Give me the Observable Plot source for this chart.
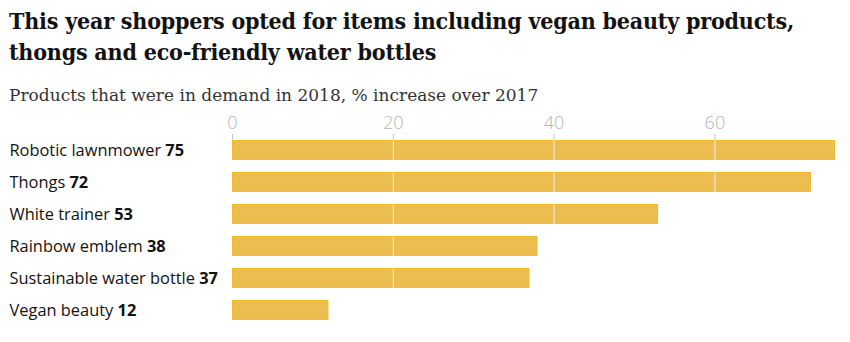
<!DOCTYPE html>
<html>
<head>
<meta charset="utf-8">
<script src="https://cdn.jsdelivr.net/npm/d3@7"></script>
<script src="https://cdn.jsdelivr.net/npm/@observablehq/plot@0.6"></script>
<style>
  html, body { margin: 0; padding: 0; background: #fff; width: 850px; height: 342px; overflow: hidden; }
  #title { position: absolute; left: 9px; top: 5px; font-family: "DejaVu Serif"; font-stretch: condensed; font-weight: 700; font-size: 23px; line-height: 31px; color: #121212; white-space: nowrap; letter-spacing: -0.2px; }
  #subtitle { position: absolute; left: 9px; top: 85px; font-family: "DejaVu Serif"; font-size: 17px; color: #333; white-space: nowrap; }
  #chart { position: absolute; left: 0; top: 100px; }
</style>
</head>
<body>
<div id="title">This year shoppers opted for items including vegan beauty products,<br>thongs and eco-friendly water bottles</div>
<div id="subtitle">Products that were in demand in 2018, % increase over 2017</div>
<div id="chart"></div>
<script>
const products = ["Robotic lawnmower", "Thongs", "White trainer", "Rainbow emblem", "Sustainable water bottle", "Vegan beauty"];
const increases = [75, 72, 53, 38, 37, 12];
const xTicks = [0, 20, 40, 60];

const data = products.map((p, i) => ({product: p, value: increases[i]}));

const chart = Plot.plot({
  width: 850,
  height: 242,
  marginTop: 40,
  marginBottom: 22,
  marginLeft: 232,
  marginRight: 15,
  style: {fontFamily: "Open Sans", background: "transparent"},
  x: {domain: [0, 75]},
  y: {domain: products, paddingInner: 0.375, paddingOuter: 0, axis: null},
  marks: [
    Plot.axisX({anchor: "top", ticks: xTicks, tickSize: 7, tickPadding: 5, label: null, stroke: "#c4c4c4", color: "#b5b5b5", fontSize: 18, fontWeight: 300}),
    Plot.barX(data, {x: "value", y: "product", fill: "#ecbd50", stroke: "#f0ba2a", strokeWidth: 1, inset: 0.5}),
    Plot.ruleX(xTicks.slice(1), {stroke: "#ffffff", strokeOpacity: 0.75, strokeWidth: 1}),
    Plot.text(data, {
      y: "product",
      text: "product",
      frameAnchor: "left",
      dx: -223,
      textAnchor: "start",
      fontSize: 16.4,
      fill: "#121212",
      render(index, scales, values, dimensions, context, next) {
        const g = next(index, scales, values, dimensions, context);
        d3.select(g).selectAll("text").each(function(_, j) {
          const i = index[j];
          d3.select(this).append("tspan").attr("font-weight", 700).text(" " + data[i].value);
        });
        return g;
      }
    })
  ]
});
document.getElementById("chart").append(chart);
</script>
</body>
</html>
